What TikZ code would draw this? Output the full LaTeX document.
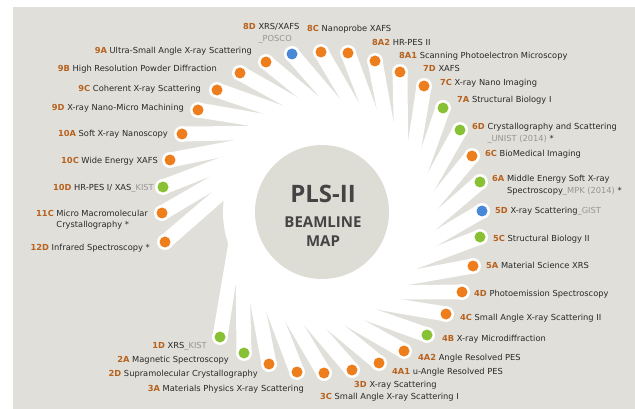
\documentclass[tikz,border=0pt]{standalone}
\usepackage{fontspec}
\setmainfont{DejaVu Sans}
\newfontfamily\hubfont{Open Sans}
\usetikzlibrary{calc}
\definecolor{bgGray}{RGB}{224,223,217}
\definecolor{hubGray}{RGB}{221,220,213}
\definecolor{codeBrown}{RGB}{183,98,30}
\definecolor{dOrange}{RGB}{238,125,28}
\definecolor{dGreen}{RGB}{137,193,52}
\definecolor{dBlue}{RGB}{72,136,214}
\definecolor{txtDark}{RGB}{40,40,40}
\definecolor{instGray}{RGB}{150,150,150}
\definecolor{hubText}{RGB}{68,68,68}
\newcommand\bl[2]{{\color{codeBrown}\bfseries #1}\ \begin{tabular}[t]{@{}l@{}}#2\end{tabular}}
\newcommand\inst[1]{{\color{instGray}#1}}

\begin{document}
\begin{tikzpicture}[x=1pt,y=-1pt,
  bdot/.style={circle,inner sep=0pt,minimum size=11pt},
  lblL/.style={anchor=base east,inner sep=0pt,text=txtDark,font=\fontsize{8.3}{11.5}\selectfont},
  lblR/.style={lblL,anchor=base west},
  hub/.style={anchor=base,inner sep=0pt,text=hubText}]
\useasboundingbox (0,0) rectangle (635,409);
\fill[bgGray] (13,7) rectangle (635,409);
\coordinate (c) at (322,212);
\fill[white] (c) circle (99pt);
% spokes with the beamline dots
\foreach \n/\x/\y/\cl in {12D/165/242/dOrange,11C/162/213/dOrange,10D/163/187/dGreen,
  10C/170/160/dOrange,10A/182/134/dOrange,9D/198/110/dOrange,9C/217/90/dOrange,
  9B/240/73/dOrange,9A/266/62/dOrange,8D/292/54/dBlue,8C/321/52/dOrange,
  8A2/348/53/dOrange,8A1/375/61/dOrange,7D/400/72/dOrange,7C/424/86/dOrange,
  7A/443/108/dGreen,6D/460/130/dGreen,6C/472/156/dOrange,6A/480/182/dGreen,
  5D/482/211/dBlue,5C/480/237/dGreen,5A/473/266/dOrange,4D/462/292/dOrange,
  4C/446/314/dOrange,4B/427/335/dGreen,4A2/404/351/dOrange,4A1/379/363/dOrange,
  3D/352/370/dOrange,3C/324/373/dOrange,3A/297/372/dOrange,2D/269/364/dOrange,
  2A/244/353/dGreen,1D/220/337/dGreen}{
  \coordinate (b\n) at (\x,\y);
  \coordinate (e\n) at ($(b\n)!135pt!30:(c)$);
  \fill[white] ($(b\n)!7.5pt!120:(c)$) -- ($(e\n)!6.5pt!-90:(b\n)$)
    -- ($(e\n)!6.5pt!90:(b\n)$) -- ($(b\n)!7.5pt!-60:(c)$) -- cycle;
  \fill[white] (b\n) circle (8pt);
  \node[bdot,fill=\cl] (d\n) at (b\n) {};
}
\fill[hubGray] (c) circle (67pt);
\node[hub,font=\hubfont\bfseries\fontsize{24}{28}\selectfont] (t1) at (323,203) {PLS-II};
\node[hub,font=\hubfont\bfseries\fontsize{15}{18}\selectfont] (t2) at (323,227) {BEAMLINE};
\node[hub,font=\hubfont\bfseries\fontsize{15}{18}\selectfont] (t3) at (323,247) {MAP};
% left side
\node[lblL] (l9A) at (252,54) {\bl{9A}{Ultra-Small Angle X-ray Scattering}};
\node[lblL] (l9B) at (217,72) {\bl{9B}{High Resolution Powder Diffraction}};
\node[lblL] (l9C) at (201,92) {\bl{9C}{Coherent X-ray Scattering}};
\node[lblL] (l9D) at (184,111) {\bl{9D}{X-ray Nano-Micro Machining}};
\node[lblL] (l10A) at (168,137) {\bl{10A}{Soft X-ray Nanoscopy}};
\node[lblL] (l10C) at (158,164) {\bl{10C}{Wide Energy XAFS}};
\node[lblL] (l10D) at (154,190) {\bl{10D}{HR-PES I/ XAS\inst{\_KIST}}};
\node[lblL] (l11C) at (148,216) {\bl{11C}{Micro Macromolecular\\Crystallography *}};
\node[lblL] (l12D) at (150,251) {\bl{12D}{Infrared Spectroscopy *}};
% bottom
\node[lblL] (l1D) at (207,348) {\bl{1D}{XRS\inst{\_KIST}}};
\node[lblL] (l2A) at (229,362) {\bl{2A}{Magnetic Spectroscopy}};
\node[lblL] (l2D) at (258,376) {\bl{2D}{Supramolecular Crystallography}};
\node[lblL] (l3A) at (304,391) {\bl{3A}{Materials Physics X-ray Scattering}};
\node[lblR] (l3C) at (320,399) {\bl{3C}{Small Angle X-ray Scattering I}};
\node[lblR] (l3D) at (354,387) {\bl{3D}{X-ray Scattering}};
\node[lblR] (l4A1) at (392,374) {\bl{4A1}{u-Angle Resolved PES}};
\node[lblR] (l4A2) at (418,360) {\bl{4A2}{Angle Resolved PES}};
% right side
\node[lblR] (l4B) at (442,341) {\bl{4B}{X-ray Microdiffraction}};
\node[lblR] (l4C) at (460,320) {\bl{4C}{Small Angle X-ray Scattering II}};
\node[lblR] (l4D) at (474,296) {\bl{4D}{Photoemission Spectroscopy}};
\node[lblR] (l5A) at (486,268) {\bl{5A}{Material Science XRS}};
\node[lblR] (l5C) at (493,241) {\bl{5C}{Structural Biology II}};
\node[lblR] (l5D) at (495,214) {\bl{5D}{X-ray Scattering\inst{\_GIST}}};
\node[lblR] (l6A) at (492,182) {\bl{6A}{Middle Energy Soft X-ray\\Spectroscopy\inst{\_MPK (2014)} *}};
\node[lblR] (l6C) at (485,157) {\bl{6C}{BioMedical Imaging}};
\node[lblR] (l6D) at (472,130) {\bl{6D}{Crystallography and Scattering\\\inst{\_UNIST (2014)} *}};
\node[lblR] (l7A) at (457,103) {\bl{7A}{Structural Biology I}};
\node[lblR] (l7C) at (440,86) {\bl{7C}{X-ray Nano Imaging}};
\node[lblR] (l7D) at (423,72) {\bl{7D}{XAFS}};
% top
\node[lblR] (l8A1) at (399,59) {\bl{8A1}{Scanning Photoelectron Microscopy}};
\node[lblR] (l8A2) at (372,46) {\bl{8A2}{HR-PES II}};
\node[lblR] (l8C) at (307,32) {\bl{8C}{Nanoprobe XAFS}};
\node[lblR] (l8D) at (243,30) {\bl{8D}{XRS/XAFS\\\inst{\_POSCO}}};
\end{tikzpicture}
\end{document}
